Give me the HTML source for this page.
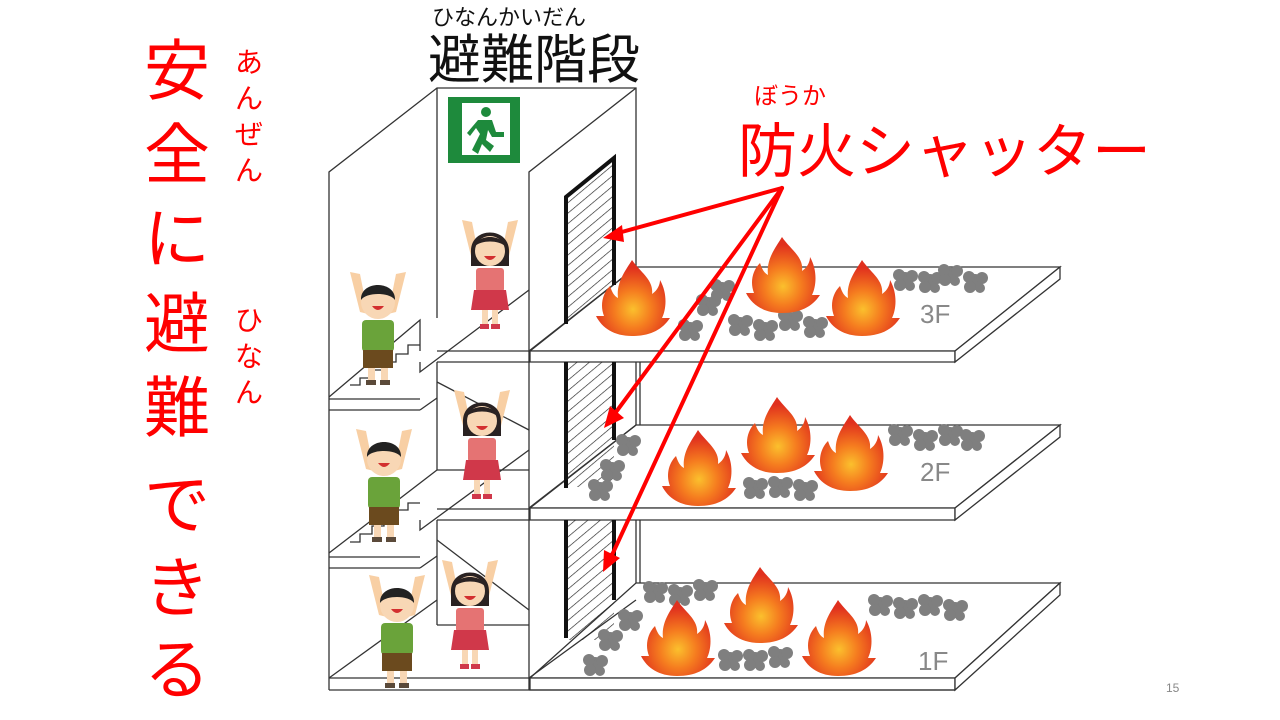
<!DOCTYPE html>
<html><head><meta charset="utf-8"><style>
html,body{margin:0;padding:0;background:#fff;}
svg{display:block;}
text{font-family:"Liberation Sans","Noto Sans CJK JP",sans-serif;}
</style></head><body>
<svg width="1280" height="720" viewBox="0 0 1280 720" xmlns="http://www.w3.org/2000/svg">
<defs>
<radialGradient id="fg" cx="50%" cy="65%" r="55%">
<stop offset="0" stop-color="#fbc02d"/><stop offset="0.45" stop-color="#f57c1f"/><stop offset="1" stop-color="#e0301e"/>
</radialGradient>
<g id="fire">
<path d="M0,-40 C8,-28 22,-20 20,-6 C26,-10 28,-16 28,-20 C36,-6 34,10 30,18 L38,18 C30,30 18,36 0,36 C-18,36 -30,28 -36,16 L-28,16 C-32,6 -30,-6 -22,-14 C-20,-8 -18,-4 -14,-2 C-16,-18 -6,-30 0,-40 Z" fill="url(#fg)"/>
</g>
<g id="smoke" fill="#7f7f7f">
<circle cx="0" cy="0" r="8"/><circle cx="7" cy="-4" r="6"/><circle cx="-6" cy="-5" r="6"/><circle cx="5" cy="6" r="5"/><circle cx="-5" cy="5" r="6"/>
</g>
<g id="boy">
<path d="M-28,-50 L-18,-10 L-10,-8 L-18,-48 Z M28,-50 L18,-10 L10,-8 L18,-48 Z" fill="#f8cfa4"/>
<circle cx="0" cy="-20" r="17" fill="#f8d7b5"/>
<path d="M-17,-22 C-18,-42 18,-42 17,-22 C12,-30 -12,-30 -17,-22 Z" fill="#222"/>
<path d="M-6,-16 Q0,-8 6,-16 Z" fill="#d32f2f"/>
<rect x="-16" y="-2" width="32" height="32" rx="4" fill="#6aa33a"/>
<rect x="-15" y="28" width="30" height="18" fill="#6b4a1e"/>
<rect x="-10" y="46" width="7" height="14" fill="#f8d7b5"/><rect x="3" y="46" width="7" height="14" fill="#f8d7b5"/>
<rect x="-12" y="58" width="10" height="5" fill="#5b4a3a"/><rect x="2" y="58" width="10" height="5" fill="#5b4a3a"/>
</g>
<g id="girl">
<path d="M-28,-50 L-18,-10 L-10,-8 L-18,-48 Z M28,-50 L18,-10 L10,-8 L18,-48 Z" fill="#f8cfa4"/>
<path d="M-19,-18 C-20,-44 20,-44 19,-18 L19,-4 L-19,-4 Z" fill="#2a2222"/>
<circle cx="0" cy="-19" r="15" fill="#f8d7b5"/>
<path d="M-15,-24 C-12,-36 12,-36 15,-24 C8,-30 -8,-30 -15,-24 Z" fill="#2a2222"/>
<path d="M-6,-14 Q0,-6 6,-14 Z" fill="#d32f2f"/>
<rect x="-14" y="-2" width="28" height="24" rx="3" fill="#e57373"/>
<path d="M-16,20 L16,20 L19,40 L-19,40 Z" fill="#d0384a"/>
<rect x="-8" y="40" width="6" height="16" fill="#f8d7b5"/><rect x="2" y="40" width="6" height="16" fill="#f8d7b5"/>
<rect x="-10" y="54" width="9" height="5" fill="#d0384a"/><rect x="1" y="54" width="9" height="5" fill="#d0384a"/>
</g>
<pattern id="hatch" width="8" height="8" patternUnits="userSpaceOnUse" patternTransform="rotate(-40)">
<line x1="0" y1="0" x2="8" y2="0" stroke="#222" stroke-width="1.3"/>
</pattern>
</defs>

<g fill="#fff" stroke="#333" stroke-width="1.3">
<polygon points="530,351 955,351 1060,267 636,267"/>
<polygon points="530,351 955,351 955,362 530,362"/>
<polygon points="955,351 1060,267 1060,279 955,362"/>
<polygon points="530,508 955,508 1060,425 636,425"/>
<polygon points="530,508 955,508 955,520 530,520"/>
<polygon points="955,508 1060,425 1060,437 955,520"/>
<polygon points="530,678 955,678 1060,583 636,583"/>
<polygon points="530,678 955,678 955,690 530,690"/>
<polygon points="955,678 1060,583 1060,595 955,690"/>
</g>
<g stroke="#333" stroke-width="1.3" fill="none">
<line x1="640" y1="362" x2="640" y2="425"/>
<line x1="640" y1="520" x2="640" y2="583"/>
</g>

<g fill="none" stroke="#333" stroke-width="1.3">
<polyline points="329,690 329,172 437,88 636,88 636,267"/>
<line x1="437" y1="88" x2="437" y2="318"/>
<polyline points="529,690 529,172 636,88"/>
<line x1="329" y1="690" x2="955" y2="690"/>
<line x1="329" y1="678" x2="529" y2="678"/>
<line x1="437" y1="351" x2="530" y2="351"/>
<line x1="437" y1="362" x2="530" y2="362"/>
<line x1="329" y1="399" x2="420" y2="399"/>
<line x1="329" y1="410" x2="420" y2="410"/>
<line x1="420" y1="410" x2="437" y2="398"/>
<line x1="329" y1="557" x2="420" y2="557"/>
<line x1="329" y1="568" x2="420" y2="568"/>
<line x1="420" y1="568" x2="437" y2="556"/>
<line x1="437" y1="509" x2="530" y2="509"/>
<line x1="437" y1="520" x2="530" y2="520"/>
<polyline points="329,397 420,320 420,351"/>
<polyline points="350,385 360,385 360,378 372,378 372,370 384,370 384,362 396,362 396,354 408,354 408,345 420,345"/>
<polyline points="420,362 420,372 529,290"/>
<line x1="437" y1="362" x2="437" y2="470"/>
<line x1="437" y1="470" x2="529" y2="470"/>
<line x1="437" y1="382" x2="529" y2="430"/>
<polyline points="329,553 437,470"/>
<polyline points="350,542 360,542 360,534 372,534 372,526 384,526 384,518 396,518 396,510 408,510 408,503 420,503"/>
<polyline points="420,520 420,530 529,450"/>
<line x1="437" y1="520" x2="437" y2="625"/>
<line x1="437" y1="625" x2="529" y2="625"/>
<line x1="437" y1="540" x2="529" y2="610"/>
<line x1="329" y1="678" x2="437" y2="600"/>
<line x1="529" y1="678" x2="636" y2="600"/>
<line x1="529" y1="351" x2="636" y2="267"/>
<line x1="529" y1="508" x2="636" y2="425"/>
<line x1="636" y1="362" x2="636" y2="425"/>
<line x1="636" y1="520" x2="636" y2="583"/>
</g>

<polygon points="566,197 614,158 614,285 566,324" fill="url(#hatch)"/>
<g stroke="#111" stroke-width="4" fill="none">
<polyline points="566,324 566,197 614,158 614,285"/>
</g>
<rect x="566" y="362" width="48" height="125" fill="url(#hatch)"/>
<g stroke="#111" stroke-width="4"><line x1="566" y1="362" x2="566" y2="488"/><line x1="614" y1="362" x2="614" y2="440"/></g>
<rect x="566" y="520" width="48" height="120" fill="url(#hatch)"/>
<g stroke="#111" stroke-width="4"><line x1="566" y1="520" x2="566" y2="638"/><line x1="614" y1="520" x2="614" y2="600"/></g>

<rect x="448" y="97" width="72" height="66" fill="#1e8a3c"/>
<rect x="462" y="103" width="48" height="52" fill="#fff"/>
<circle cx="486" cy="112" r="5" fill="#1e8a3c"/>
<path d="M478,120 L492,120 L496,132 L504,132 L504,137 L492,137 L488,130 L486,140 L494,146 L490,152 L482,144 L478,154 L472,150 L480,134 L476,128 L470,136 L467,133 Z" fill="#1e8a3c"/>

<g>
<use href="#smoke" x="690" y="330"/><use href="#smoke" x="708" y="305"/><use href="#smoke" x="740" y="325"/><use href="#smoke" x="765" y="330"/><use href="#smoke" x="790" y="320"/><use href="#smoke" x="815" y="327"/><use href="#smoke" x="722" y="290"/>
<use href="#smoke" x="905" y="280"/><use href="#smoke" x="930" y="282"/><use href="#smoke" x="950" y="275"/><use href="#smoke" x="975" y="282"/>
<use href="#smoke" x="600" y="490"/><use href="#smoke" x="612" y="470"/><use href="#smoke" x="628" y="445"/>
<use href="#smoke" x="755" y="488"/><use href="#smoke" x="780" y="487"/><use href="#smoke" x="805" y="490"/>
<use href="#smoke" x="900" y="435"/><use href="#smoke" x="925" y="440"/><use href="#smoke" x="950" y="435"/><use href="#smoke" x="972" y="440"/>
<use href="#smoke" x="595" y="665"/><use href="#smoke" x="610" y="640"/><use href="#smoke" x="630" y="620"/>
<use href="#smoke" x="655" y="592"/><use href="#smoke" x="680" y="595"/><use href="#smoke" x="705" y="590"/>
<use href="#smoke" x="730" y="660"/><use href="#smoke" x="755" y="660"/><use href="#smoke" x="780" y="657"/>
<use href="#smoke" x="880" y="605"/><use href="#smoke" x="905" y="608"/><use href="#smoke" x="930" y="605"/><use href="#smoke" x="955" y="610"/>
</g>

<use href="#fire" x="632" y="300"/>
<use href="#fire" x="782" y="277"/>
<use href="#fire" x="862" y="300"/>
<use href="#fire" x="698" y="470"/>
<use href="#fire" x="777" y="437"/>
<use href="#fire" x="850" y="455"/>
<use href="#fire" x="677" y="640"/>
<use href="#fire" x="760" y="607"/>
<use href="#fire" x="838" y="640"/>

<g font-size="26" fill="#888">
<text x="920" y="323">3F</text><text x="920" y="481">2F</text><text x="918" y="670">1F</text>
</g>

<use href="#boy" x="378" y="322"/>
<use href="#girl" x="490" y="270"/>
<use href="#boy" x="384" y="479"/>
<use href="#girl" x="482" y="440"/>
<use href="#boy" x="397" y="625"/>
<use href="#girl" x="470" y="610"/>

<g stroke="#f00" stroke-width="4" fill="none" stroke-linecap="round">
<line x1="782" y1="188" x2="618" y2="233"/>
<line x1="782" y1="188" x2="616" y2="412"/>
<line x1="782" y1="188" x2="612" y2="555"/>
</g>
<g fill="#f00">
<polygon points="603,238 622,225 624,242"/>
<polygon points="604,428 610,406 624,418"/>
<polygon points="603,572 604,550 620,558"/>
</g>

<g fill="#f00" font-size="66">
<text x="144" y="94">安</text>
<text x="144" y="178">全</text>
<text x="144" y="262">に</text>
<text x="144" y="347">避</text>
<text x="144" y="431">難</text>
<text x="144" y="528">で</text>
<text x="144" y="611">き</text>
<text x="144" y="693">る</text>
</g>
<g fill="#f00" font-size="28">
<text x="235" y="72">あ</text><text x="235" y="108">ん</text><text x="235" y="144">ぜ</text><text x="235" y="180">ん</text>
<text x="235" y="330">ひ</text><text x="235" y="366">な</text><text x="235" y="402">ん</text>
</g>
<text x="432" y="25" font-size="22" fill="#111">ひなんかいだん</text>
<text x="428" y="78" font-size="53" fill="#111">避難階段</text>
<text x="754" y="104" font-size="24" fill="#f00">ぼうか</text>
<text x="738" y="172" font-size="59" fill="#f00">防火シャッター</text>
<text x="1166" y="692" font-size="12" fill="#888">15</text>
</svg>
</body></html>
